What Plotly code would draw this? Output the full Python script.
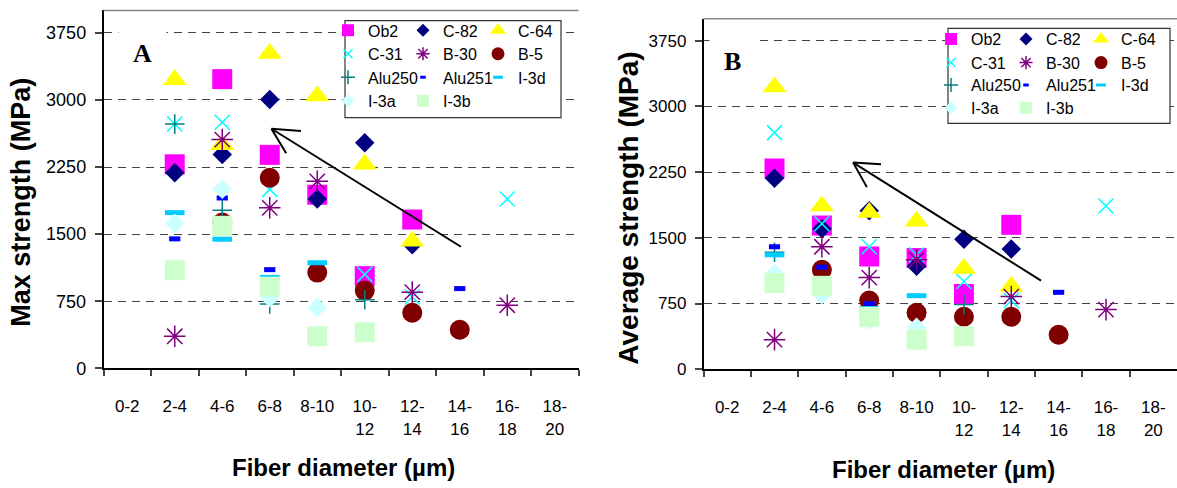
import plotly.graph_objects as go

W, H = 1177, 488

# ---------------- data ----------------
cats = ["0-2", "2-4", "4-6", "6-8", "8-10", "10-12", "12-14", "14-16", "16-18", "18-20"]
tick_text = ["0-2", "2-4", "4-6", "6-8", "8-10", "10-<br>12", "12-<br>14", "14-<br>16", "16-<br>18", "18-<br>20"]
y_ticks = [0, 750, 1500, 2250, 3000, 3750]

series = ["Ob2", "C-82", "C-64", "C-31", "B-30", "B-5", "Alu250", "Alu251", "I-3d", "I-3a", "I-3b"]

# Panel A: maximum strength (MPa)
max_Ob2    = [None, 2280, 3233, 2386, 1940, 1030, 1663, None, None, None]
max_C82    = [None, 2185, 2390, 3006, 1893, 2520, 1381, None, None, None]
max_C64    = [None, 3225, 2500, 3518, 3043, 2280, 1420, None, None, None]
max_C31    = [None, 2730, 2750, 2000, None, 1050, 797, None, 1893, None]
max_B30    = [None, 358, 2557, 1794, 2090, None, 851, None, 705, None]
max_B5     = [None, None, 1630, 2130, 1070, 869, 621, 431, None, None]
max_Alu250 = [None, 2730, 1768, 720, None, 767, None, None, None, None]
max_Alu251 = [None, 1447, 1904, 1103, 416, None, None, 891, None, None]
max_I3d    = [None, 1740, 1443, 1016, 1180, None, None, None, None, None]
max_I3a    = [None, 1620, 2002, 790, 680, None, None, None, None, None]
max_I3b    = [None, 1096, 1593, 913, 358, 402, None, None, None, None]

# Panel B: average strength (MPa)
avg_Ob2    = [None, 2291, 1640, 1287, 1269, 859, 1648, None, None, None]
avg_C82    = [None, 2180, 1603, 1808, 1175, 1484, 1373, None, None, None]
avg_C64    = [None, 3222, 1864, 1789, 1689, 1150, 945, None, None, None]
avg_C31    = [None, 2700, 1660, 1398, 1306, 1001, 785, None, 1864, None]
avg_B30    = [None, 338, 1398, 1046, 1250, None, 829, None, 681, None]
avg_B5     = [None, None, 1135, 785, 644, 599, 599, 394, None, None]
avg_Alu250 = [None, 1336, None, None, None, 740, None, None, None, None]
avg_Alu251 = [None, 1398, 1164, 748, 387, None, None, 878, None, None]
avg_I3d    = [None, 1306, None, 692, 840, None, None, None, None, None]
avg_I3a    = [None, 1090, 850, 560, 480, None, None, None, None, None]
avg_I3b    = [None, 985, 952, 599, 338, 376, None, None, None, None]

max_values = [max_Ob2, max_C82, max_C64, max_C31, max_B30, max_B5,
              max_Alu250, max_Alu251, max_I3d, max_I3a, max_I3b]
avg_values = [avg_Ob2, avg_C82, avg_C64, avg_C31, avg_B30, avg_B5,
              avg_Alu250, avg_Alu251, avg_I3d, avg_I3a, avg_I3b]

# ---------------- styles ----------------
# (symbol, colour, plot size, plot line width, legend size, legend line width)
styles = {
    "Ob2":    ("square", "#FF00FF", 20, 0, 12, 0),
    "C-82":   ("diamond", "#000080", 15, 0, 10, 0),
    "C-64":   ("triangle-up", "#FFFF00", 21, 0, 14, 0),
    "C-31":   ("x-thin-open", "#00FFFF", 15, 1.5, 9, 1.5),
    "B-30":   ("asterisk-open", "#800080", 18, 1.5, 11, 1.5),
    "B-5":    ("circle", "#800000", 20, 0, 13, 0),
    "Alu250": ("cross-thin-open", "#008080", 14, 1.5, 10, 1.5),
    "Alu251": ("line-ew-open", "#0000FF", 8, 5, 4, 3),
    "I-3d":   ("line-ew-open", "#00CCFF", 14, 5, 7, 3),
    "I-3a":   ("diamond", "#CCFFFF", 15, 0, 10, 0),
    "I-3b":   ("square", "#CCFFCC", 20, 0, 12, 0),
}

FONT = "Arial, Liberation Sans, sans-serif"
SERIF = "Times New Roman, Liberation Serif, serif"


def fx(px):
    return px / W


def fy(py):
    return 1 - py / H


def mk(sym, col, size, lw):
    m = dict(symbol=sym, color=col, size=size)
    m["line"] = dict(color=col, width=lw) if lw else dict(width=0)
    return m


fig = go.Figure()

for panel, values, xa, ya, leg0 in [("A", max_values, "x", "y", 1), ("B", avg_values, "x2", "y2", 5)]:
    for i, name in enumerate(series):
        sym, col, size, lw, lsize, llw = styles[name]
        grp = panel + name
        fig.add_trace(go.Scatter(
            x=cats, y=values[i], mode="markers", name=name,
            xaxis=xa, yaxis=ya, marker=mk(sym, col, size, lw),
            legendgroup=grp, showlegend=False, cliponaxis=False,
        ))
    # legend-only entries (one legend per legend row)
    for i, name in enumerate(series):
        sym, col, size, lw, lsize, llw = styles[name]
        row = i // 3
        leg_id = "legend" if leg0 + row == 1 else "legend%d" % (leg0 + row)
        fig.add_trace(go.Scatter(
            x=[None], y=[None], mode="markers", name=name,
            xaxis=xa, yaxis=ya, marker=mk(sym, col, lsize, llw),
            legendgroup=panel + name, legend=leg_id, showlegend=True,
        ))

axis_common_x = dict(
    type="category", categoryorder="array", categoryarray=cats,
    tickmode="array", tickvals=cats, ticktext=tick_text,
    range=[-0.5, 9.5], showgrid=False, zeroline=False,
    showline=True, linecolor="black", linewidth=1.5,
    ticks="outside", ticklen=6, tickcolor="#444", tickwidth=1.5,
    tickson="boundaries",
    tickfont=dict(family=FONT, size=17, color="black"),
    ticklabelstandoff=22, fixedrange=True,
)
axis_common_y = dict(
    range=[0, 4000], tickmode="array", tickvals=y_ticks,
    showgrid=True, gridcolor="#444", gridwidth=1, griddash="8px,6px",
    zeroline=False, showline=True, linecolor="black", linewidth=1.5,
    ticks="outside", ticklen=7, tickcolor="#444", tickwidth=1.5,
    ticklabelstandoff=5, fixedrange=True,
)

layout = dict(
    width=W, height=H, margin=dict(l=0, r=0, t=0, b=0),
    paper_bgcolor="white", plot_bgcolor="white",
    font=dict(family=FONT, color="black"),
    xaxis=dict(axis_common_x, domain=[fx(103.5), fx(578.5)], anchor="y"),
    yaxis=dict(axis_common_y, domain=[fy(376), fy(10.7)], anchor="x",
               tickfont=dict(family=FONT, size=18, color="black")),
    xaxis2=dict(axis_common_x, domain=[fx(703.5), 1.0], anchor="y2"),
    yaxis2=dict(axis_common_y, domain=[fy(377), fy(19.1)], anchor="x2",
                tickfont=dict(family=FONT, size=17, color="black")),
)

# legends: one per row in each panel
legA_rows = [31, 55, 79, 103]
legB_rows = [40, 64, 87, 110]
legA_x = 328
legB_x = 931
for k in range(8):
    key = "legend" if k == 0 else "legend%d" % (k + 1)
    if k < 4:
        x0, yc = legA_x, legA_rows[k]
    else:
        x0, yc = legB_x, legB_rows[k - 4]
    layout[key] = dict(
        orientation="h", x=fx(x0), y=fy(yc), xanchor="left", yanchor="middle",
        xref="paper", yref="paper",
        bgcolor="rgba(0,0,0,0)", borderwidth=0,
        font=dict(family=FONT, size=16, color="black"),
        entrywidth=30, itemsizing="trace",
    )

fig.update_layout(**layout)

shapes = []
# legend boxes
for (x0, x1, y0, y1) in [(345, 561, 21, 120), (948, 1170, 29, 126)]:
    shapes.append(dict(type="rect", xref="paper", yref="paper",
                       x0=fx(x0), x1=fx(x1), y0=fy(y1), y1=fy(y0),
                       fillcolor="white", line=dict(color="#333", width=1.2), layer="above"))
# top borders of plot areas
shapes.append(dict(type="line", xref="x domain", yref="y domain", x0=0, x1=1, y0=1, y1=1,
                   line=dict(color="#888", width=1.5), layer="above"))
shapes.append(dict(type="line", xref="x2 domain", yref="y2 domain", x0=0, x1=1, y0=1, y1=1,
                   line=dict(color="#888", width=1.5), layer="above"))
fig.update_layout(shapes=shapes)

ann = []
# panel letters
ann.append(dict(text="<b>A</b>", xref="paper", yref="paper", x=fx(142), y=fy(55),
                showarrow=False, font=dict(family=SERIF, size=26, color="black"),
                bgcolor="white", borderpad=14, xanchor="center", yanchor="middle"))
ann.append(dict(text="<b>B</b>", xref="paper", yref="paper", x=fx(733), y=fy(63),
                showarrow=False, font=dict(family=SERIF, size=26, color="black"),
                bgcolor="white", borderpad=14, xanchor="center", yanchor="middle"))
# axis titles
ann.append(dict(text="<b>Max strength (MPa)</b>", xref="paper", yref="paper", x=fx(21), y=fy(207),
                textangle=-90, showarrow=False, font=dict(family=FONT, size=27, color="black"),
                xanchor="center", yanchor="middle"))
ann.append(dict(text="<b>Average strength (MPa)</b>", xref="paper", yref="paper", x=fx(629), y=fy(213),
                textangle=-90, showarrow=False, font=dict(family=FONT, size=28, color="black"),
                xanchor="center", yanchor="middle"))
ann.append(dict(text="<b>Fiber diameter (µm)</b>", xref="paper", yref="paper", x=fx(343), y=fy(477),
                showarrow=False, font=dict(family=FONT, size=24, color="black"),
                xanchor="center", yanchor="middle"))
ann.append(dict(text="<b>Fiber diameter (µm)</b>", xref="paper", yref="paper", x=fx(943), y=fy(479),
                showarrow=False, font=dict(family=FONT, size=24, color="black"),
                xanchor="center", yanchor="middle"))

# trend arrows (shaft + two barbs), tip in data coordinates, offsets in pixels
for xr, yr, tipx, tipy, segs in [
    ("x", "y", 3.036, 2678, [(190, 118.3), (30, 2.3), (15, 25)]),
    ("x2", "y2", 2.66, 2358, [(188.4, 118.3), (28.4, 1.6), (14, 25)]),
]:
    for (dx, dy) in segs:
        ann.append(dict(text="", xref=xr, yref=yr, x=tipx, y=tipy, ax=dx, ay=dy,
                        axref="pixel", ayref="pixel", showarrow=True, arrowhead=0,
                        arrowwidth=2, arrowcolor="black", standoff=0, startstandoff=0,
                        borderpad=0))
fig.update_layout(annotations=ann)

fig.write_html("out.html")
